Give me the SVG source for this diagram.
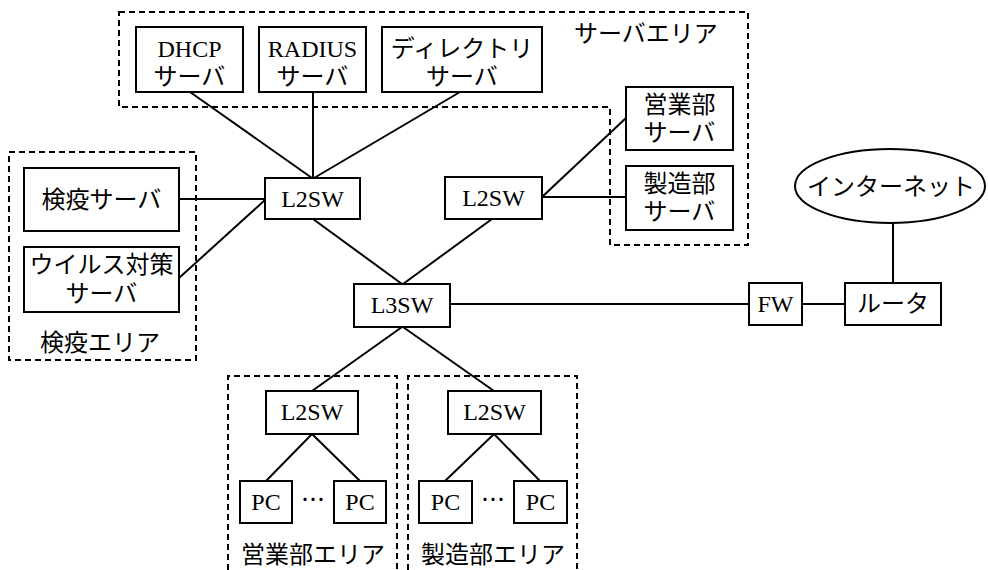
<svg xmlns="http://www.w3.org/2000/svg" width="988" height="570" viewBox="0 0 988 570">
<style>
  .box{fill:#fff;stroke:#000;stroke-width:2}
  .area{fill:none;stroke:#000;stroke-width:2;stroke-dasharray:6,4}
  .ln{stroke:#000;stroke-width:2;fill:none}
  text{font-family:"Liberation Serif","Noto Sans CJK JP",serif;font-size:24px;fill:#000;text-anchor:middle;dominant-baseline:central}
</style>
<rect width="988" height="570" fill="#fff"/>
<g id="areas">
  <path class="area" d="M119,12 H748 V245 H610 V107 H119 Z"/>
  <text x="646" y="34">サーバエリア</text>
  <rect class="area" x="9" y="152" width="187" height="208"/>
  <text x="100" y="343">検疫エリア</text>
  <path class="area" d="M228,580 V376 H397 V580"/>
  <text x="313" y="555">営業部エリア</text>
  <path class="area" d="M408,580 V376 H577 V580"/>
  <text x="493" y="555">製造部エリア</text>
</g>
<g id="connectors">
  <line class="ln" x1="190" y1="92" x2="312" y2="178"/>
  <line class="ln" x1="313" y1="92" x2="313" y2="178"/>
  <line class="ln" x1="460" y1="92" x2="314" y2="178"/>
  <line class="ln" x1="179" y1="199" x2="265" y2="199"/>
  <line class="ln" x1="179" y1="278" x2="265" y2="200"/>
  <line class="ln" x1="313" y1="219" x2="402" y2="284"/>
  <line class="ln" x1="492" y1="219" x2="403" y2="284"/>
  <line class="ln" x1="542" y1="197" x2="626" y2="118"/>
  <line class="ln" x1="542" y1="197" x2="626" y2="197"/>
  <line class="ln" x1="450" y1="304" x2="749" y2="304"/>
  <line class="ln" x1="802" y1="304" x2="845" y2="304"/>
  <line class="ln" x1="893" y1="223" x2="893" y2="283"/>
  <line class="ln" x1="402" y1="327" x2="312" y2="391"/>
  <line class="ln" x1="403" y1="327" x2="494" y2="391"/>
  <line class="ln" x1="312" y1="434" x2="266" y2="481"/>
  <line class="ln" x1="312" y1="434" x2="360" y2="481"/>
  <line class="ln" x1="494" y1="434" x2="445" y2="481"/>
  <line class="ln" x1="494" y1="434" x2="540" y2="481"/>
</g>
<g id="dhcp"><rect class="box" x="136" y="27" width="107" height="65"/><text x="189.5" y="49">DHCP</text><text x="189.5" y="77">サーバ</text></g>
<g id="radius"><rect class="box" x="259" y="27" width="107" height="65"/><text x="312.5" y="49">RADIUS</text><text x="312.5" y="77">サーバ</text></g>
<g id="directory"><rect class="box" x="382" y="27" width="160" height="65"/><text x="462" y="49">ディレクトリ</text><text x="462" y="77">サーバ</text></g>
<g id="sales-server"><rect class="box" x="626" y="87" width="107" height="63"/><text x="679.5" y="105">営業部</text><text x="679.5" y="133">サーバ</text></g>
<g id="mfg-server"><rect class="box" x="626" y="166" width="107" height="64"/><text x="679.5" y="184">製造部</text><text x="679.5" y="212">サーバ</text></g>
<g id="quarantine-server"><rect class="box" x="24" y="168" width="155" height="63"/><text x="101.5" y="200">検疫サーバ</text></g>
<g id="virus-server"><rect class="box" x="24" y="247" width="155" height="65"/><text x="101.5" y="265">ウイルス対策</text><text x="101.5" y="294">サーバ</text></g>
<g id="l2sw-srv"><rect class="box" x="265" y="178" width="95" height="41"/><text x="312.5" y="199">L2SW</text></g>
<g id="l2sw-dept"><rect class="box" x="445" y="177" width="97" height="42"/><text x="493.5" y="198">L2SW</text></g>
<g id="l3sw"><rect class="box" x="354" y="284" width="96" height="43"/><text x="402" y="305">L3SW</text></g>
<g id="fw"><rect class="box" x="749" y="283" width="53" height="42"/><text x="775.5" y="304">FW</text></g>
<g id="router"><rect class="box" x="845" y="283" width="96" height="42"/><text x="893" y="304">ルータ</text></g>
<g id="internet"><ellipse class="box" cx="890" cy="186" rx="95" ry="37"/><text x="891" y="187">インターネット</text></g>
<g id="l2sw-sales"><rect class="box" x="266" y="391" width="92" height="43"/><text x="312" y="412">L2SW</text></g>
<g id="l2sw-mfg"><rect class="box" x="448" y="391" width="93" height="43"/><text x="494.5" y="412">L2SW</text></g>
<g id="pc1"><rect class="box" x="240" y="481" width="52" height="42"/><text x="266" y="502">PC</text></g>
<g id="pc2"><rect class="box" x="334" y="481" width="52" height="42"/><text x="360" y="502">PC</text></g>
<g id="pc3"><rect class="box" x="419" y="481" width="53" height="42"/><text x="445.5" y="502">PC</text></g>
<g id="pc4"><rect class="box" x="514" y="481" width="53" height="42"/><text x="540.5" y="502">PC</text></g>
<text x="313" y="500">⋯</text>
<text x="493" y="500">⋯</text>
</svg>
